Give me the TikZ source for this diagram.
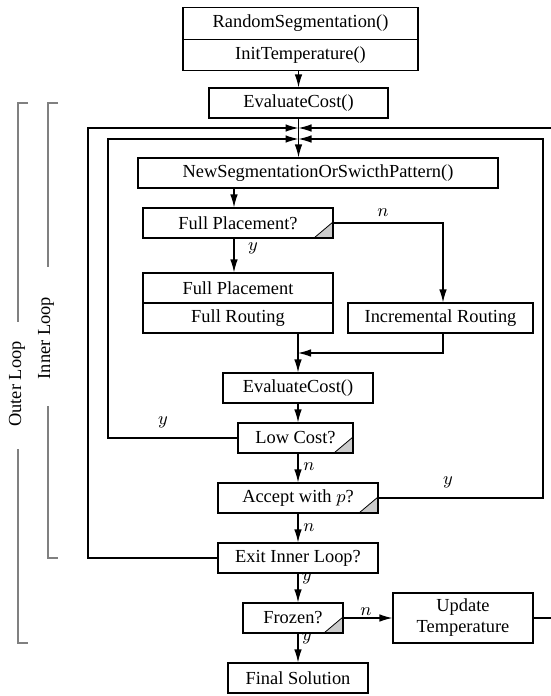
\documentclass[tikz,border=0pt]{standalone}
\usepackage{fontspec}
\setmainfont{Liberation Serif}
\usepackage{tikz}
\usetikzlibrary{arrows.meta, positioning, calc}
\tikzset{
  proc/.style={draw, line width=0.6pt, minimum height=15pt, inner sep=1pt, font=\fontsize{9.2}{10.5}\selectfont},
  decision/.style={proc, path picture={
      \fill[gray!40] (path picture bounding box.south east) -- ++(-9.5pt,0) -- ++(9.5pt,8pt) -- cycle;
      \draw[line width=0.4pt] (path picture bounding box.south east) ++(-9.5pt,0) -- ++(9.5pt,8pt);}},
  flow/.style={line width=0.6pt, -{Latex[length=6.5pt,width=3.8pt]}},
  lbl/.style={inner sep=0pt, font=\fontsize{9.2}{11}\selectfont},
  bracket/.style={gray, line width=0.8pt},
}

\begin{document}
\begin{tikzpicture}[x=0.5pt, y=-0.5pt]
  \useasboundingbox (0,0) rectangle (551,696);

  % init nodes

  \node[proc, minimum width=117.5pt, minimum height=15.75pt] (randseg) at (300.5,23.5) {RandomSegmentation()};
  \node[proc, minimum width=117.5pt, minimum height=15.75pt] (inittemp) at ($(randseg)+(0,31.5)$) {InitTemperature()};
  \node[proc, minimum width=89.5pt] (evalinit) at (298.5,103) {EvaluateCost()};
  \draw[flow] (evalinit.north |- inittemp.south) -- (evalinit.north);

  % loop junctions

  \coordinate (jout) at (298.5,128);
  \coordinate (jin) at (298.5,139);
  \coordinate (outl) at (88,128);
  \coordinate (outr) at (553,128);
  \coordinate (inl) at (108,139);
  \coordinate (inr) at (543,139);

  % inner loop nodes

  \node[proc, minimum width=180pt] (newseg) at (318,173) {NewSegmentationOrSwicthPattern()};
  \draw[flow] (evalinit.south) -- (evalinit.south |- newseg.north);

  \node[decision, minimum width=95pt] (fullq) at (238,223) {Full Placement?};
  \draw[flow] ($(newseg.south -| fullq.north)+(-4,0)$) -- ($(fullq.north)+(-4,0)$);

  \node[proc, minimum width=95pt] (fullpl) at ($(fullq)+(0,65)$) {Full Placement};
  \node[proc, minimum width=95pt] (fullrt) at ($(fullpl)+(0,30)$) {Full Routing};
  \draw[flow] ($(fullq.south)+(-4,0)$) -- ($(fullpl.north)+(-4,0)$);
  \node[lbl] (fullqy) at (253,248) {$y$};

  \node[proc, minimum width=92.5pt] (incr) at (440.5,318) {Incremental Routing};
  \draw[flow] (fullq.east) -| ($(incr.north)+(2.5,0)$);
  \node[lbl] (fullqn) at (383,213) {$n$};

  \node[proc, minimum width=75pt] (evalloop) at (298,388) {EvaluateCost()};
  \coordinate (merge) at (298,353);
  \draw[flow] (fullrt.south -| evalloop.north) -- (evalloop.north);
  \draw[flow] ($(incr.south)+(2.5,0)$) |- (merge);

  \node[decision, minimum width=57.5pt] (lowq) at (295.5,438) {Low Cost?};
  \draw[flow] (evalloop.south) -- (evalloop.south |- lowq.north);
  \draw[flow] (lowq.west) -| (inl) -- (jin);
  \node[lbl] (lowqy) at (163,422) {$y$};

  \node[decision, minimum width=80pt] (accq) at (298,498) {Accept with $p$?};
  \draw[flow] (accq.north |- lowq.south) -- (accq.north);
  \node[lbl] (lowqn) at (309,467) {$n$};
  \draw[flow] (accq.east) -| (inr) -- (jin);
  \node[lbl] (accqy) at (448,482) {$y$};

  % outer loop nodes

  \node[proc, minimum width=80pt] (exitq) at (298,558) {Exit Inner Loop?};
  \draw[flow] (accq.south) -- (exitq.north);
  \node[lbl] (accqn) at (309,528) {$n$};
  \draw[flow] (exitq.west) -| (outl) -- (jout);

  \node[decision, minimum width=50pt] (frozenq) at (293,618) {Frozen?};
  \draw[flow] (exitq.south) -- (exitq.south |- frozenq.north);
  \node[lbl] (exitqy) at (307,578) {$y$};

  \node[proc, minimum width=70pt, minimum height=25pt, align=center] (updtemp) at (463,618) {Update\\Temperature};
  \draw[flow] (frozenq.east) -- (updtemp.west);
  \node[lbl] (frozenqn) at (366,612) {$n$};
  \draw[flow] (updtemp.east) -| (outr) -- (jout);

  \node[proc, minimum width=70pt] (final) at (298,678) {Final Solution};
  \draw[flow] (final.north |- frozenq.south) -- (final.north);
  \node[lbl] (frozenqy) at (307,638) {$y$};

  % loop brackets

  \draw[bracket] (28,103) -- (18,103) -- (18,322);
  \draw[bracket] (18,449) -- (18,643) -- (28,643);
  \node[lbl, rotate=90] (outerlbl) at (17,384) {Outer Loop};

  \draw[bracket] (58,103) -- (48,103) -- (48,267);
  \draw[bracket] (48,406) -- (48,558) -- (58,558);
  \node[lbl, rotate=90] (innerlbl) at (46,338) {Inner Loop};

\end{tikzpicture}
\end{document}
